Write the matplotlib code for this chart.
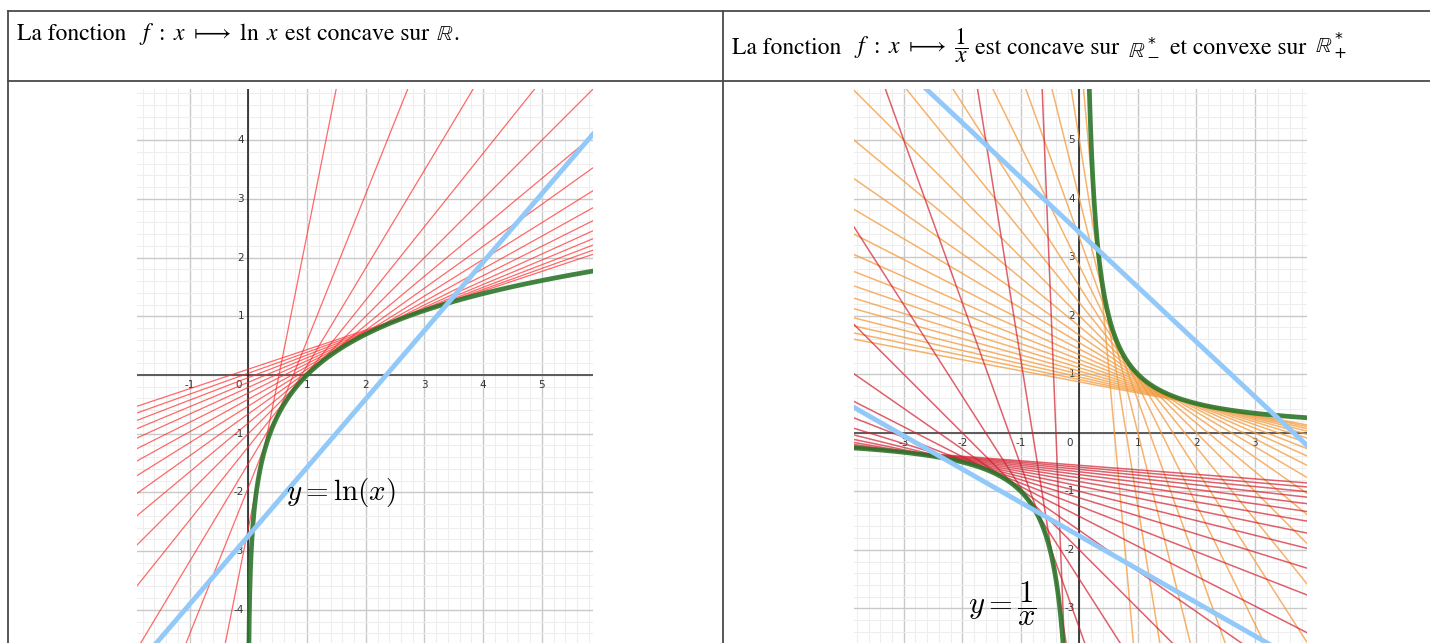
import numpy as np
import matplotlib.pyplot as plt
from matplotlib.lines import Line2D

W, H = 1430, 643

# tangent points on y = ln(x)
ln_tangent_pts = [0.2, 0.4, 0.6, 0.8, 1.0, 1.2, 1.4, 1.6, 1.8, 2.0,
                  2.2, 2.4, 2.6, 2.8, 3.0]
# chord through two points of ln(x)
ln_chord_pts = [0.07, 3.4]

# tangent points on y = 1/x, x > 0 (orange) and x < 0 (red)
inv_tangent_pos = [0.3, 0.4, 0.5, 0.6, 0.7, 0.8, 0.9, 1.0, 1.1, 1.2, 1.3,
                   1.4, 1.5, 1.6, 1.7, 1.8, 1.9, 2.0, 2.1, 2.2, 2.3]
inv_tangent_neg = [-0.2, -0.4, -0.6, -0.8, -1.0, -1.2, -1.4, -1.6, -1.8,
                   -2.0, -2.2, -2.4, -2.6, -2.8, -3.0, -3.2, -3.4, -3.6]
inv_chord_pos = [0.32, 3.34]
inv_chord_neg = [-2.34, -0.75]

left_xticks = [-2, -1, 1, 2, 3, 4, 5]
left_yticks = [-4, -3, -2, -1, 1, 2, 3, 4]
right_xticks = [-3, -2, -1, 1, 2, 3]
right_yticks = [-3, -2, -1, 1, 2, 3, 4, 5]

GREEN = '#2c762c'
BLUE = '#92c9f9'

fig = plt.figure(figsize=(W / 100, H / 100), dpi=100)


def px_axes(x0, x1, y0, y1):
    return fig.add_axes([x0 / W, 1 - y1 / H, (x1 - x0) / W, (y1 - y0) / H])


def setup(ax, xlim, ylim, xt, yt):
    ax.set_xlim(*xlim)
    ax.set_ylim(*ylim)
    ax.set_xticks(np.arange(np.ceil(xlim[0]), xlim[1] + 0.01, 1))
    ax.set_yticks(np.arange(np.ceil(ylim[0]), ylim[1] + 0.01, 1))
    ax.set_xticks(np.arange(np.ceil(xlim[0] * 5) / 5, xlim[1], 0.2), minor=True)
    ax.set_yticks(np.arange(np.ceil(ylim[0] * 5) / 5, ylim[1], 0.2), minor=True)
    ax.grid(which='major', color='#c9c9c9', lw=1.0, zorder=0)
    ax.grid(which='minor', color='#eeeeee', lw=0.8, zorder=0)
    ax.tick_params(which='both', length=0, labelbottom=False, labelleft=False)
    for s in ax.spines.values():
        s.set_visible(False)
    ax.set_axisbelow(True)
    ax.axhline(0, color='#5a5a5a', lw=1.4, zorder=1)
    ax.axvline(0, color='#111111', lw=1.1, zorder=1)
    for k in xt:
        ax.text(k, -0.17, str(k), ha='center', va='center', fontsize=7.5,
                color='#333333', clip_on=True, zorder=2)
    for k in yt:
        ax.text(-0.07, k, str(k), ha='right', va='center', fontsize=7.5,
                color='#333333', clip_on=True, zorder=2)
    ax.text(-0.17, -0.17, '0', ha='center', va='center', fontsize=7.5,
            color='#333333', zorder=2)


######## left : ln ########
ax1 = px_axes(137, 593, 88.5, 643)
xl = (-1.896, 5.87)
setup(ax1, xl, (-4.566, 4.88), left_xticks, left_yticks)
xs = np.array(xl)
for a in ln_tangent_pts:
    ax1.plot(xs, np.log(a) + (xs - a) / a, color='#ff2a2a', lw=0.9,
             alpha=0.7, zorder=3)
x = np.linspace(0.004, 6, 1500)
ax1.plot(x, np.log(x), color=GREEN, lw=3.4, alpha=0.9, zorder=4)
p, q = ln_chord_pts
m = (np.log(q) - np.log(p)) / (q - p)
ax1.plot(xs, np.log(p) + m * (xs - p), color=BLUE, lw=3.5, zorder=5)
ax1.text(0.65, -2.0, r'$y = \ln(x)$', fontsize=21, math_fontfamily='cm',
         ha='left', va='center', zorder=6)

######## right : 1/x ########
ax2 = px_axes(854, 1307, 88.5, 643)
xr = (-3.85, 3.89)
setup(ax2, xr, (-3.59, 5.88), right_xticks, right_yticks)
xs = np.array(xr)
for a in inv_tangent_pos:
    ax2.plot(xs, 2 / a - xs / a**2, color='#f39a3c', lw=1.1, alpha=0.75,
             zorder=3)
for a in inv_tangent_neg:
    ax2.plot(xs, 2 / a - xs / a**2, color='#d21e2e', lw=1.1, alpha=0.7,
             zorder=3)
xp = np.linspace(0.1, 4, 800)
xn = np.linspace(-4, -0.1, 800)
ax2.plot(xp, 1 / xp, color=GREEN, lw=3.4, alpha=0.9, zorder=4)
ax2.plot(xn, 1 / xn, color=GREEN, lw=3.4, alpha=0.9, zorder=4)
for p, q in (inv_chord_pos, inv_chord_neg):
    m = (1 / q - 1 / p) / (q - p)
    ax2.plot(xs, 1 / p + m * (xs - p), color=BLUE, lw=3.5, zorder=5)
ax2.text(-1.91, -2.92, r'$y = \dfrac{1}{x}$', fontsize=22,
         math_fontfamily='cm', ha='left', va='center', zorder=6)

######## table ########
lc = '#4a4a4a'
for (x0, y0, x1, y1) in [(8, 10.7, W, 10.7), (8, 81, W, 81),
                         (8, 10.7, 8, H), (723, 10.7, 723, H)]:
    fig.add_artist(Line2D([x0 / W, x1 / W], [1 - y0 / H, 1 - y1 / H],
                          color=lc, lw=1.3))

renderer = fig.canvas.get_renderer()
serif = dict(family='STIXGeneral', math_fontfamily='stix', fontsize=17)
bb = dict(math_fontfamily='dejavusans', fontsize=16)


def header(x, y, pieces):
    # place text pieces one after the other on the same baseline
    for s, kw, gap in pieces:
        t = fig.text(x / W, 1 - y / H, s, va='baseline', ha='left', **kw)
        x += t.get_window_extent(renderer).width + gap


header(17, 40, [
    ('La fonction', serif, 13),
    (r'$f\ :\ x\ \longmapsto\ \ln\ x$', serif, 6),
    ('est concave sur', serif, 6),
    (r'$\mathbb{R}$', bb, 1),
    ('.', serif, 0),
])
header(732, 53.5, [
    ('La fonction', serif, 13),
    (r'$f\ :\ x\ \longmapsto\ \dfrac{1}{x}$', serif, 6),
    ('est concave sur', serif, 9),
    (r'$\mathbb{R}^*_-$', bb, 10),
    ('et convexe sur', serif, 9),
    (r'$\mathbb{R}^*_+$', bb, 0),
])

fig.savefig('out.png', dpi=100)
